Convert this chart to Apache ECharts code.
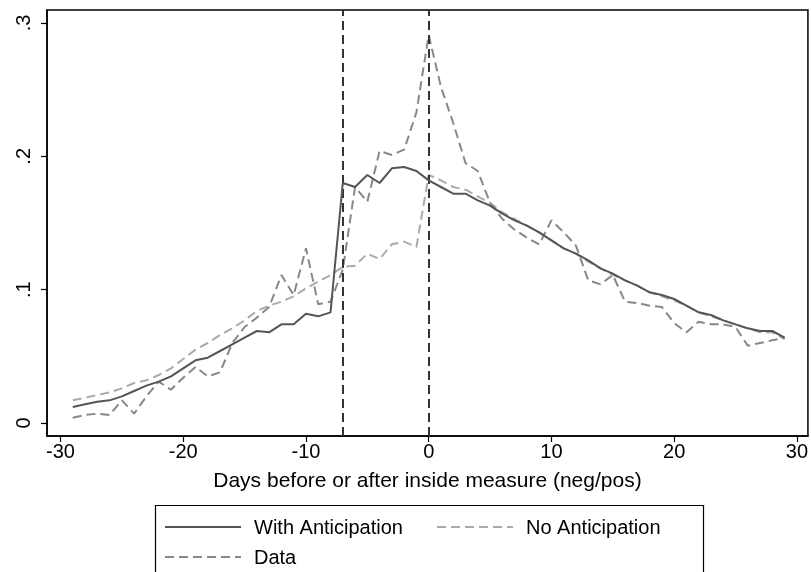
<!DOCTYPE html>
<html><head><meta charset="utf-8">
<script src="https://cdn.jsdelivr.net/npm/echarts@6/dist/echarts.min.js"></script>
<style>html,body{margin:0;padding:0;background:#fff}#c{width:811px;height:572px}</style>
</head><body><div id="c"></div>
<script>
const days = [];
for (let d = -29; d <= 29; d++) days.push(d);
const withAnticipation = [0.012,0.014,0.016,0.017,0.020,0.024,0.028,0.031,0.035,0.041,0.047,0.049,0.054,0.059,0.064,0.069,0.068,0.074,0.074,0.082,0.080,0.083,
  0.180,0.177,0.186,0.180,0.191,0.192,0.189,0.182,0.177,0.172,0.172,0.167,0.163,0.157,0.152,0.148,0.143,0.137,0.131,0.127,0.122,0.116,0.112,0.107,0.103,0.098,0.096,0.093,0.088,0.083,0.081,0.077,0.074,0.071,0.069,0.069,0.064];
const noAnticipation = [0.017,0.019,0.021,0.023,0.026,0.030,0.032,0.036,0.041,0.048,0.055,0.060,0.066,0.071,0.077,0.084,0.088,0.091,0.095,0.101,0.106,0.111,
  0.117,0.118,0.127,0.123,0.134,0.136,0.132,0.186,0.182,0.177,0.175,0.170,0.165,0.158,0.153,0.148,0.143,0.137,0.131,0.127,0.121,0.116,0.111,0.107,0.103,0.098,0.095,0.092,0.088,0.083,0.080,0.077,0.074,0.071,0.068,0.068,0.063];
const dataSeries = [0.004,0.006,0.007,0.006,0.017,0.007,0.020,0.031,0.025,0.034,0.042,0.035,0.038,0.060,0.072,0.079,0.087,0.111,0.096,0.131,0.089,0.091,
  0.115,0.177,0.166,0.204,0.201,0.205,0.233,0.291,0.252,0.225,0.195,0.189,0.165,0.153,0.145,0.139,0.134,0.152,0.143,0.133,0.107,0.104,0.111,0.091,0.090,0.088,0.087,0.075,0.068,0.076,0.074,0.074,0.072,0.058,0.060,0.062,0.064];
const xTicks = [-30,-20,-10,0,10,20,30];
const yTicks = [0,0.1,0.2,0.3];
const yTickLabels = ['0','.1','.2','.3'];
const eventDays = [-7, 0];
const xTitle = 'Days before or after inside measure (neg/pos)';
const names = ['With Anticipation','No Anticipation','Data'];

const colors = ['#555','#aaa','#888'];
const dashes = [null,[9,5],[9,5]];
const pair = arr => days.map((d,i)=>[d,arr[i]]);
const font = 'Liberation Sans, Arial, sans-serif';
const fs = 20;

// legend (drawn as graphics)
const legendPos = [[165,527],[437,527],[165,557]];
const legendGraphics = [{type:'rect',shape:{x:155.5,y:505.5,width:548,height:80},style:{fill:'#fff',stroke:'#000',lineWidth:1.2},z:1}];
names.forEach((n,i)=>{
  const [x,y]=legendPos[i];
  legendGraphics.push({type:'line',shape:{x1:x,y1:y,x2:x+76,y2:y},style:{stroke:colors[i],lineWidth:2,lineDash:dashes[i]},z:2});
  legendGraphics.push({type:'text',x:x+89,y:y+1,style:{text:n,fill:'#000',font:fs+'px '+font,textVerticalAlign:'middle',verticalAlign:'middle'},z:2});
});

const chart = echarts.init(document.getElementById('c'));
chart.setOption({
  backgroundColor:'#fff',
  animation:false,
  grid:{left:47,top:10,right:2,bottom:136,show:true,borderColor:'#000',borderWidth:1.5,backgroundColor:'#fff'},
  xAxis:{type:'value',min:-31.1,max:30.9,
    name:xTitle,nameLocation:'middle',nameGap:35,
    nameTextStyle:{fontFamily:font,fontSize:21,color:'#000'},
    axisLine:{show:true,onZero:false,lineStyle:{color:'#000',width:1.5}},
    axisTick:{show:true,inside:false,length:6,customValues:xTicks,lineStyle:{color:'#000',width:1.2}},
    axisLabel:{customValues:xTicks,fontFamily:font,fontSize:fs,color:'#000',margin:6},
    splitLine:{show:false}},
  yAxis:{type:'value',min:-0.00975,max:0.30975,
    axisLine:{show:true,onZero:false,lineStyle:{color:'#000',width:1.5}},
    axisTick:{show:true,inside:false,length:6,customValues:yTicks,lineStyle:{color:'#000',width:1.2}},
    axisLabel:{customValues:yTicks,rotate:90,fontFamily:font,fontSize:fs,color:'#000',margin:13,
      formatter:v=>{const i=yTicks.findIndex(t=>Math.abs(t-v)<1e-9);return i>=0?yTickLabels[i]:'';}},
    splitLine:{show:false}},
  graphic:legendGraphics,
  series:[
    {name:names[0],type:'line',data:pair(withAnticipation),symbol:'none',z:5,
      lineStyle:{color:colors[0],width:2,type:'solid'},
      markLine:{silent:true,symbol:'none',label:{show:false},
        lineStyle:{color:'#333',width:2,type:[9,5]},data:eventDays.map(d=>({xAxis:d}))}},
    {name:names[1],type:'line',data:pair(noAnticipation),symbol:'none',z:3,
      lineStyle:{color:colors[1],width:2,type:dashes[1]}},
    {name:names[2],type:'line',data:pair(dataSeries),symbol:'none',z:4,
      lineStyle:{color:colors[2],width:2,type:dashes[2]}}
  ]
});
</script></body></html>
